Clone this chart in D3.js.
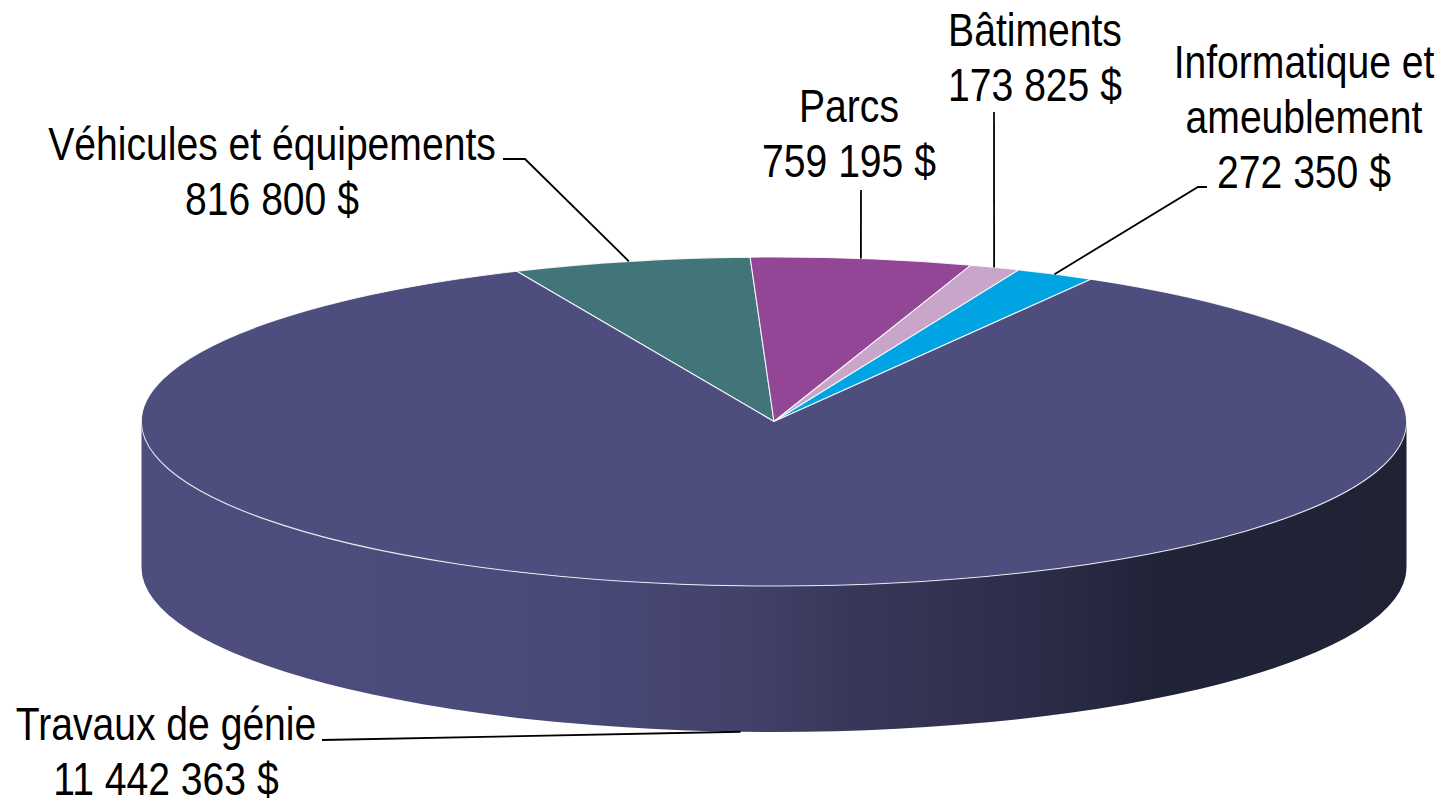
<!DOCTYPE html>
<html lang="fr">
<head>
<meta charset="utf-8">
<script src="https://cdn.jsdelivr.net/npm/d3@7"></script>
<style>
html,body{margin:0;padding:0;background:#fff;overflow:hidden}
text{font-family:"Liberation Sans",Arial,sans-serif;fill:#000}
</style>
</head>
<body>
<svg id="chart" width="1449" height="800"></svg>
<script>
const categories = ["Véhicules et équipements","Parcs","Bâtiments","Informatique et ameublement","Travaux de génie"];
const values = [816800,759195,173825,272350,11442363];
const labelLines = [["Véhicules et équipements"],["Parcs"],["Bâtiments"],["Informatique et","ameublement"],["Travaux de génie"]];
const colors = ["#42757a","#924695","#c8a5c9","#00a4e2","#4d4e7d"];

const cx=774, cy=421.5, rx=632.5, ry=164.5, depth=146;
const labelAnchors=[[272,160],[849,122],[1035,45.5],[1304,78],[166,740]];
const leaderStarts=[[[503,159],[525,159]],[[861,190]],[[994,112]],[[1207,187],[1198,187]],[[322,740]]];
const leaderShift=[-2,-1,-1,-1,0];
const fontSize=46, condense=0.85, lineGap=55.2;

const fmt=v=>String(v).replace(/\B(?=(\d{3})+(?!\d))/g," ")+" $";
const svg=d3.select("#chart");
const pie=d3.pie().sort(null).startAngle(-24*Math.PI/180).endAngle(336*Math.PI/180);
const arcs=pie(values);
const arc=d3.arc().innerRadius(0).outerRadius(rx);

// wall shading
const wallStops=[[0,"#4d4e7e"],[0.283,"#4a4b7a"],[0.385,"#464774"],[0.41,"#454570"],[0.5,"#3f3f66"],[0.56,"#383759"],[0.68,"#2f2f4c"],[0.76,"#262740"],[0.8,"#212338"],[1,"#202234"]];
const grad=svg.append("defs").append("linearGradient").attr("id","wall");
grad.selectAll("stop").data(wallStops).join("stop")
  .attr("offset",d=>d[0]).attr("stop-color",d=>d[1]);

svg.append("path")
  .attr("d",`M${cx-rx},${cy}A${rx},${ry} 0 0 0 ${cx+rx},${cy}L${cx+rx},${cy+depth}A${rx},${ry} 0 0 1 ${cx-rx},${cy+depth}Z`)
  .attr("fill","url(#wall)");

// top face
svg.append("g").attr("transform",`translate(${cx},${cy}) scale(1,${ry/rx})`)
  .selectAll("path").data(arcs).join("path")
  .attr("d",arc).attr("fill",(d,i)=>colors[i])
  .attr("stroke","#fff").attr("stroke-width",1.1).attr("stroke-opacity",.85)
  .attr("vector-effect","non-scaling-stroke").attr("stroke-linejoin","round");

// leaders reach the rim at each slice's middle angle
const rim=(d,i)=>{
  const a=(d.startAngle+d.endAngle)/2, x=cx+rx*Math.sin(a)+leaderShift[i], y=cy-ry*Math.cos(a);
  return [x, Math.cos(a)<0 ? y+depth : y];
};
const line=d3.line();
svg.append("g").selectAll("path").data(arcs).join("path")
  .attr("d",(d,i)=>line([...leaderStarts[i],rim(d,i)]))
  .attr("fill","none").attr("stroke","#000").attr("stroke-width",1.8);

// labels
const groups=svg.append("g").selectAll("g").data(categories).join("g")
  .attr("transform",(d,i)=>`translate(${labelAnchors[i][0]},${labelAnchors[i][1]}) scale(${condense},1)`);
groups.each(function(d,i){
  const lines=[...labelLines[i],fmt(values[i])];
  d3.select(this).selectAll("text").data(lines).join("text")
    .attr("y",(t,j)=>j*lineGap).attr("text-anchor","middle")
    .attr("font-size",fontSize).text(t=>t);
});
</script>
</body>
</html>
